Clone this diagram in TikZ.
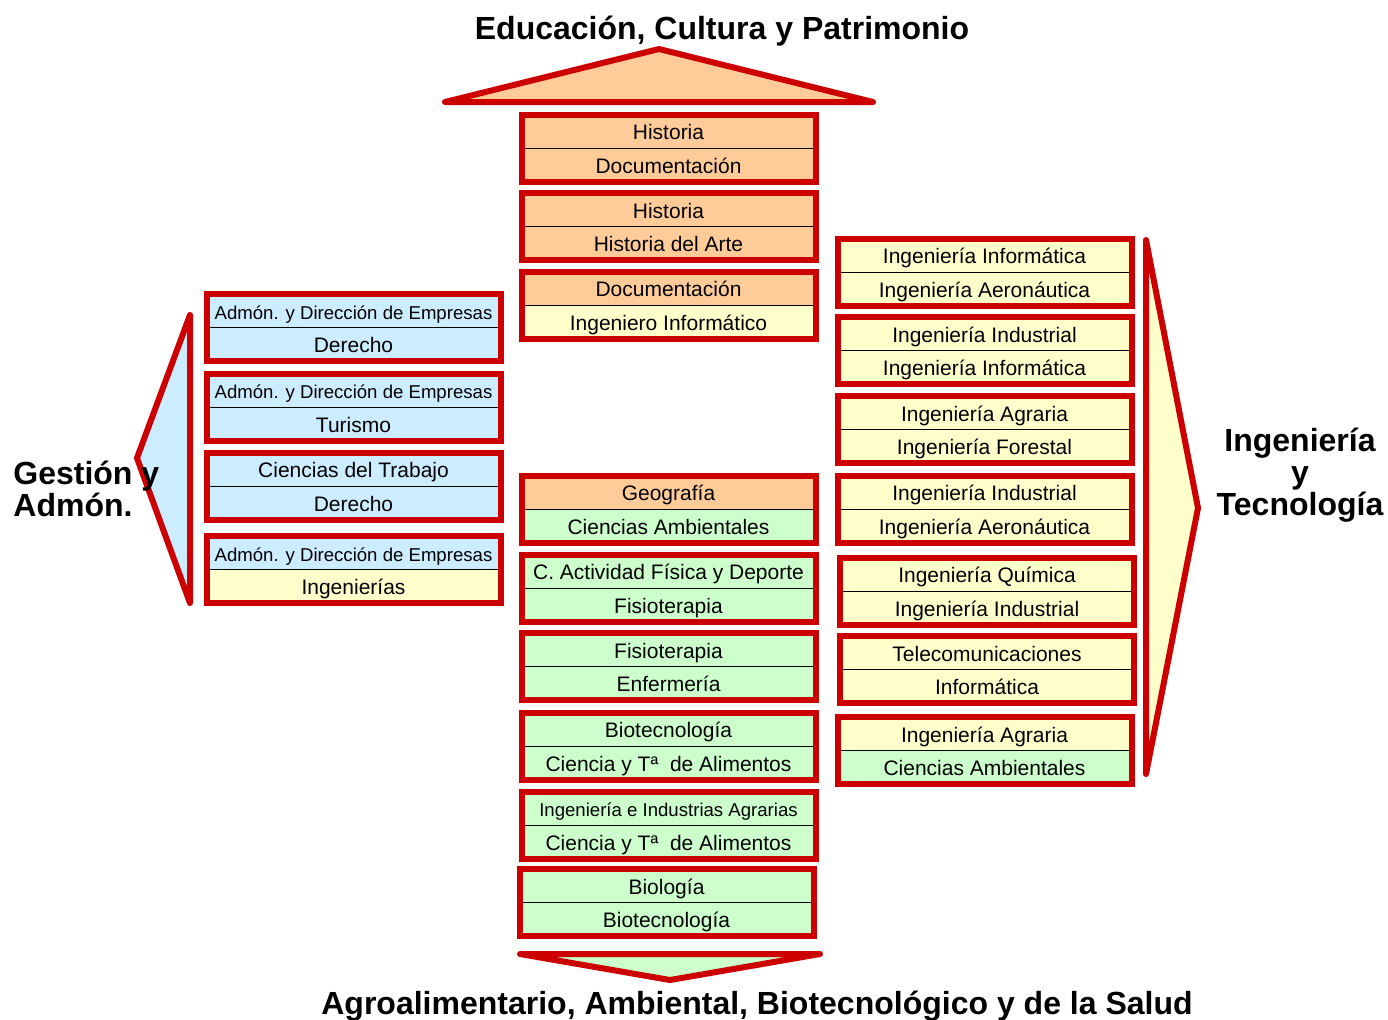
\documentclass[tikz,border=0pt]{standalone}
\usepackage{fontspec}
\setmainfont{Liberation Sans}
\definecolor{frame}{HTML}{CC0000}
\definecolor{orng}{HTML}{FFCC99}
\definecolor{blu}{HTML}{CCECFF}
\definecolor{yel}{HTML}{FFFFCC}
\definecolor{grn}{HTML}{CCFFCC}
\tikzset{
  cell/.style={draw=black, line width=0.5pt, inner sep=0pt, outer sep=0pt,
    minimum width=147pt, minimum height=16.75pt,
    text height=9.8pt, text depth=1.4pt, font=\fontsize{10.5}{12}\selectfont},
  redframe/.style={draw=frame, line width=3pt},
  bigarrow/.style={draw=frame, line width=3pt, line join=round},
  title/.style={font=\fontsize{16}{16}\selectfont\bfseries, inner sep=0pt}
}
\newcommand{\smalltxt}[1]{{\fontsize{9.3}{11}\selectfont #1}}
% two stacked cells in one red frame
\newcommand{\pair}[6]{%
  \node[cell, fill=#4, anchor=south] (#1a) at (#2) {#3};
  \node[cell, fill=#6, anchor=north] (#1b) at (#2) {#5};
  \draw[redframe] (#1a.north west) rectangle (#1b.south east);}
\begin{document}
\begin{tikzpicture}[x=0.5pt,y=-0.5pt]
  \useasboundingbox (0,0) rectangle (1388,1019);
  % big arrows
  \filldraw[bigarrow, fill=orng] (445,102) -- (659,49) -- (873,102) -- cycle;
  \filldraw[bigarrow, fill=blu] (190,315) -- (137,458) -- (190,603) -- cycle;
  \filldraw[bigarrow, fill=yel] (1146,240) -- (1198,508) -- (1146,774) -- cycle;
  \filldraw[bigarrow, fill=grn] (520,954) -- (820,954) -- (670,980) -- cycle;
  % centre column
  \pair{c1}{668.5,148}{Historia}{orng}{Documentación}{orng}
  \pair{c2}{668.5,226.5}{Historia}{orng}{Historia del Arte}{orng}
  \pair{c3}{668.5,305}{Documentación}{orng}{Ingeniero Informático}{yel}
  \pair{c4}{668.5,509}{Geografía}{orng}{Ciencias Ambientales}{grn}
  \pair{c5}{668.5,588}{C. Actividad Física y Deporte}{grn}{Fisioterapia}{grn}
  \pair{c6}{668.5,666.5}{Fisioterapia}{grn}{Enfermería}{grn}
  \pair{c7}{668.5,746}{Biotecnología}{grn}{Ciencia y Tª\ \ de Alimentos}{grn}
  \pair{c8}{668.5,825}{\smalltxt{Ingeniería e Industrias Agrarias}}{grn}{Ciencia y Tª\ \ de Alimentos}{grn}
  \pair{c9}{666.5,902.5}{Biología}{grn}{Biotecnología}{grn}
  % left column
  \pair{l1}{353.5,327.5}{\smalltxt{Admón. y Dirección de Empresas}}{blu}{Derecho}{blu}
  \pair{l2}{353.5,407}{\smalltxt{Admón. y Dirección de Empresas}}{blu}{Turismo}{blu}
  \pair{l3}{353.5,486}{Ciencias del Trabajo}{blu}{Derecho}{blu}
  \pair{l4}{353.5,569.5}{\smalltxt{Admón. y Dirección de Empresas}}{blu}{Ingenierías}{yel}
  % right column
  \pair{r1}{984.5,272}{Ingeniería Informática}{yel}{Ingeniería Aeronáutica}{yel}
  \pair{r2}{984.5,350.5}{Ingeniería Industrial}{yel}{Ingeniería Informática}{yel}
  \pair{r3}{984.5,429.5}{Ingeniería Agraria}{yel}{Ingeniería Forestal}{yel}
  \pair{r4}{984.5,509}{Ingeniería Industrial}{yel}{Ingeniería Aeronáutica}{yel}
  \pair{r5}{987,591}{Ingeniería Química}{yel}{Ingeniería Industrial}{yel}
  \pair{r6}{987,669.5}{Telecomunicaciones}{yel}{Informática}{yel}
  \pair{r7}{984.5,750.5}{Ingeniería Agraria}{yel}{Ciencias Ambientales}{grn}
  % titles
  \node[title] (edu) at (722,31) {Educación, Cultura y Patrimonio};
  \node[title] (agro) at (757,1006) {Agroalimentario, Ambiental, Biotecnológico y de la Salud};
  \node[title, align=left, anchor=west] (gest) at (13,489) {Gestión y\\Admón.};
  \node[title, align=center] (ing) at (1300,475) {Ingeniería\\y\\Tecnología};
\end{tikzpicture}
\end{document}
